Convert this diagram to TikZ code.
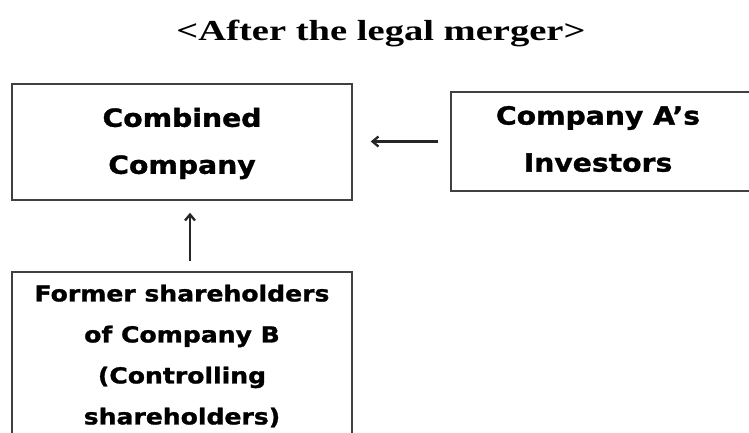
\documentclass[tikz,border=0pt]{standalone}
\usepackage{fontspec}
\setmainfont{Liberation Serif}
\newfontfamily\boxfont{DejaVu Sans}[BoldFeatures={FakeBold=1.2}]
\usetikzlibrary{arrows.meta}
\begin{document}
\begin{tikzpicture}[x=1pt,y=-1pt,
  box/.style={draw=black!75,line width=1.4pt,rectangle,inner sep=0pt},
  boxtext/.style={font=\boxfont\bfseries\fontsize{25}{47}\selectfont,align=center,xscale=1.13,inner sep=0pt},
  smalltext/.style={font=\boxfont\bfseries\fontsize{22}{41}\selectfont,align=center,xscale=1.14,inner sep=0pt},
  conn/.style={line width=2.3pt,black!85,-{Straight Barb[length=6pt,width=10pt]}}]
\useasboundingbox (0,0) rectangle (749,432);
\clip (0,0) rectangle (749,432);
\fill[white] (0,0) rectangle (749,432);
\node[font=\bfseries\fontsize{29}{34}\selectfont,xscale=1.33,inner sep=0pt] (title) at (381,33) {<After the legal merger>};
\node[box,minimum width=340pt,minimum height=116pt] (combined) at (182,142) {};
\node[boxtext] (combinedtext) at (182,143.5) {Combined\\Company};
\node[box,minimum width=303pt,minimum height=99pt] (investors) at (602.5,141.5) {};
\node[boxtext] (investorstext) at (598,139) {Company A’s\\Investors};
\node[box,minimum width=340pt,minimum height=180pt] (former) at (182,362) {};
\node[smalltext] (formertext) at (182,356) {Former shareholders\\of Company B\\(Controlling\\shareholders)};
\draw[conn,shorten <=12pt,shorten >=18pt] (investors.west) -- (combined.east |- investors.west);
\draw[conn,shorten <=10pt,shorten >=12pt] ([xshift=8pt]former.north) -- ([xshift=8pt]combined.south);
\end{tikzpicture}
\end{document}
